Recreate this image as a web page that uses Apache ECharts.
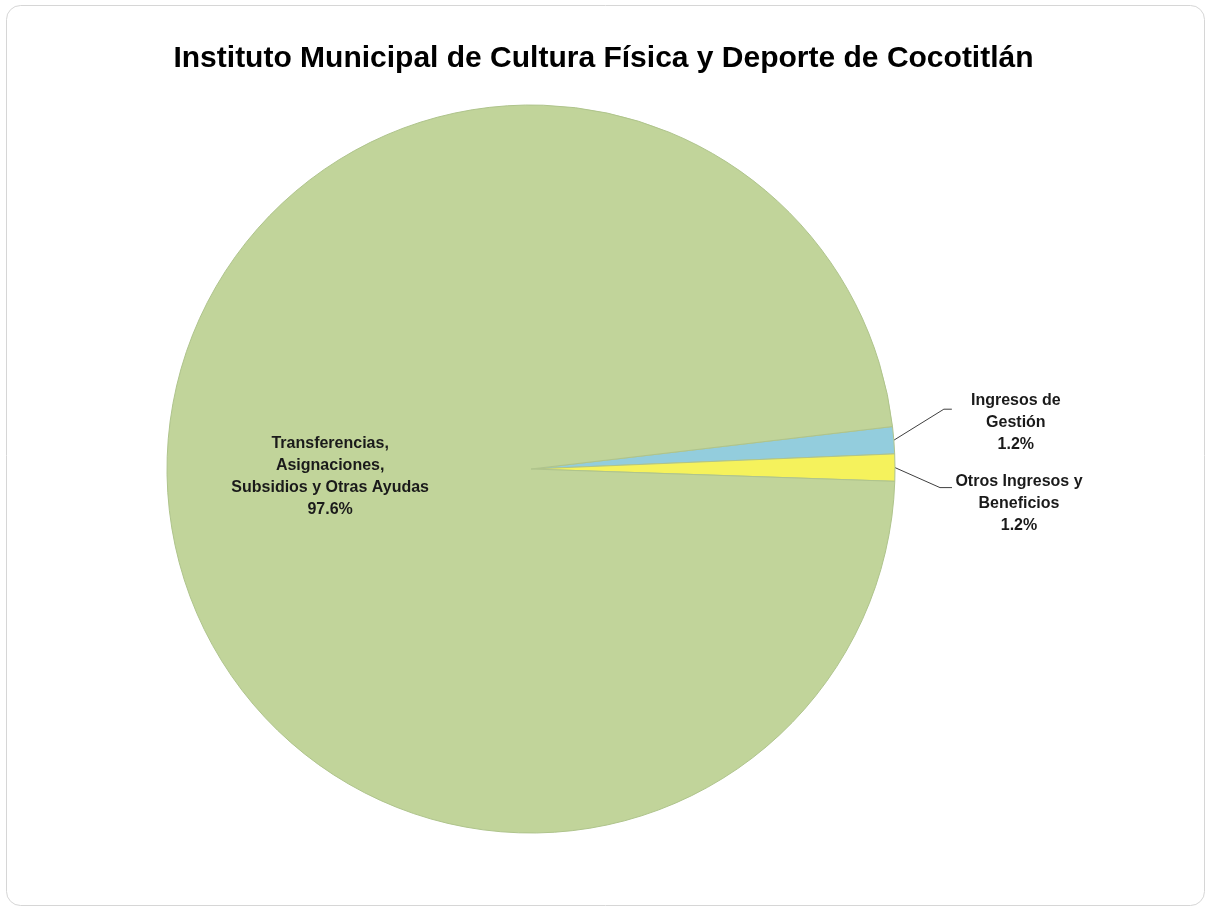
<!DOCTYPE html>
<html>
<head>
<meta charset="utf-8">
<script src="https://cdn.jsdelivr.net/npm/echarts@6/dist/echarts.min.js"></script>
<style>html,body{margin:0;padding:0;background:#fff;}#c{width:1207px;height:912px;}</style>
</head>
<body>
<div id="c"></div>
<script>
const titleText = 'Instituto Municipal de Cultura Física y Deporte de Cocotitlán';
const categories = ['Ingresos de Gestión', 'Otros Ingresos y Beneficios', 'Transferencias, Asignaciones, Subsidios y Otras Ayudas'];
const labelLines = [['Ingresos de', 'Gestión'], ['Otros Ingresos y', 'Beneficios'], ['Transferencias,', 'Asignaciones,', 'Subsidios y Otras Ayudas']];
const values = [1.2, 1.2, 97.6];
const colors = ['#93cddd', '#f5f25c', '#c1d49a'];

const chart = echarts.init(document.getElementById('c'));
const FONT = '"Liberation Sans", Arial, sans-serif';

// leader-line geometry for the two small slices
const leader = {
  0: { dx: 50, dy: -31, run: 8, textDx: 2, textDy: 13 },
  1: { dx: 45, dy: 20, run: 12, textDx: 5, textDy: 16 }
};

const data = categories.map((name, i) => {
  const isBig = i === 2;
  return {
    name: name,
    value: values[i],
    itemStyle: { color: colors[i] },
    label: isBig ? {
      position: 'inside',
      formatter: () => labelLines[i].join('\n') + '\n' + values[i].toFixed(1) + '%',
      fontSize: 16, lineHeight: 22, fontWeight: 'bold', color: '#1a1a1a', fontFamily: FONT,
      align: 'center', offset: [-16, 0]
    } : {
      position: 'outside',
      formatter: () => labelLines[i].map(s => '{a|' + s + '}').join('\n') + '\n{a|' + values[i].toFixed(1) + '%}',
      rich: { a: { width: 124, align: 'center', fontSize: 16, lineHeight: 22, fontWeight: 'bold', color: '#1a1a1a', fontFamily: FONT } }
    },
    labelLine: isBig ? { show: false } : { show: true, length: 40, length2: 8, lineStyle: { color: '#3f3f3f', width: 1 } }
  };
});

chart.setOption({
  backgroundColor: '#ffffff',
  animation: false,
  graphic: [{
    type: 'rect', left: 6, top: 5, shape: { width: 1198, height: 900, r: 14 },
    style: { fill: '#ffffff', stroke: '#d6d6d6', lineWidth: 1 }, z: -10
  }],
  title: {
    text: titleText, left: 'center', top: 39,
    textStyle: { fontSize: 30, fontWeight: 'bold', color: '#000', fontFamily: FONT }
  },
  series: [{
    type: 'pie',
    center: [531, 469],
    radius: 364,
    startAngle: 6.7,
    clockwise: true,
    avoidLabelOverlap: false,
    itemStyle: { borderColor: '#afc48c', borderWidth: 1 },
    label: { distanceToLabelLine: 2 },
    emphasis: { disabled: true },
    labelLayout: function (p) {
      const L = leader[p.dataIndex];
      if (!L || !p.labelLinePoints) return {};
      const s = p.labelLinePoints[0];
      const e = [s[0] + L.dx, s[1] + L.dy];
      const f = [e[0] + L.run, e[1]];
      return {
        x: f[0] + L.textDx, y: f[1] + L.textDy, align: 'left', verticalAlign: 'middle',
        labelLinePoints: [s, e, f]
      };
    },
    data: data
  }]
});
</script>
</body>
</html>
